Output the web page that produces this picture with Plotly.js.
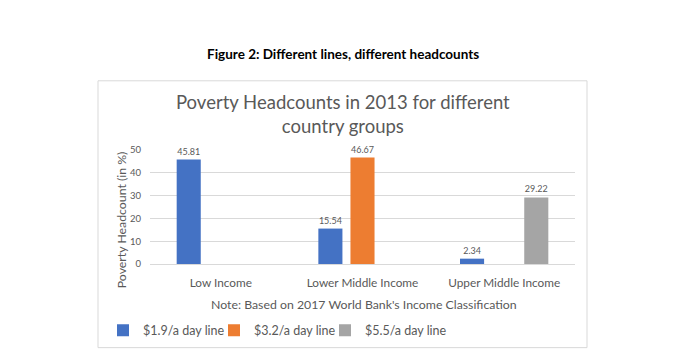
<!DOCTYPE html>
<html><head><meta charset="utf-8">
<script src="https://cdn.plot.ly/plotly-3.0.1.min.js"></script>
<style>html,body{margin:0;padding:0;background:#fff}#chart{width:678px;height:361px}</style>
</head><body><div id="chart"></div>
<script>
const categories = ["Low Income", "Lower Middle Income", "Upper Middle Income"];
const seriesNames = ["$1.9/a day line", "$3.2/a day line", "$5.5/a day line"];
const line19 = [45.81, 15.54, 2.34];
const line32 = [null, 46.67, null];
const line55 = [null, null, 29.22];
const yTicks = [0, 10, 20, 30, 40, 50];
const colors = ["#4472C4", "#ED7D31", "#A5A5A5"];

const font = "Lato, 'Open Sans', sans-serif";
const gray = "#595959";
const seriesVals = [line19, line32, line55];
const traces = seriesVals.map((v, i) => ({
  type: "bar", name: seriesNames[i], x: categories, y: v,
  marker: {color: colors[i]},
  text: v.map(d => d == null ? "" : d.toFixed(2)),
  textposition: "outside", cliponaxis: false,
  textfont: {family: font, size: 9, color: gray}
}));
// empty spacer entry so the last legend label is not clipped
traces.push({type: "scatter", mode: "markers", x: [null], y: [null], name: "\u00a0",
  marker: {color: "rgba(0,0,0,0)"}, showlegend: true, hoverinfo: "skip"});

// pixel -> paper helpers (plot area x 150..575, y 264..149.5)
const L = 150, R = 575, B = 264, T = 149.5;
const px = p => (p - L) / (R - L);
const py = p => (B - p) / (B - T);
const ann = (text, x, y, size, color, extra) => Object.assign({
  text, xref: "paper", yref: "paper", x: px(x), y: py(y),
  xanchor: "center", yanchor: "middle", showarrow: false,
  font: {family: font, size, color}
}, extra || {});

const layout = {
  width: 678, height: 361,
  margin: {l: L, r: 678 - R, t: T, b: 361 - B, pad: 0},
  paper_bgcolor: "#fff", plot_bgcolor: "#fff",
  barmode: "group", bargap: 0.32, bargroupgap: 0.25,
  showlegend: true,
  font: {family: font, color: gray},
  xaxis: {
    type: "category", tickfont: {family: font, size: 11.8, color: gray},
    showgrid: false, zeroline: false, showline: true, linecolor: "#d9d9d9",
    ticks: "", ticklabelstandoff: 8
  },
  yaxis: {
    range: [0, 50], tickvals: yTicks, ticktext: yTicks.map(String),
    tickfont: {family: font, size: 9.5, color: gray},
    showgrid: true, gridcolor: "#d9d9d9", zeroline: false, showline: false,
    ticks: "", ticklabelstandoff: 8
  },
  legend: {
    orientation: "h", x: px(103), y: py(331), xanchor: "left", yanchor: "middle",
    font: {family: font, size: 12.5, color: gray}, itemwidth: 30, entrywidth: 66,
    bgcolor: "rgba(0,0,0,0)"
  },
  shapes: [{
    type: "rect", xref: "paper", yref: "paper",
    x0: px(98), x1: px(587), y0: py(348), y1: py(80),
    line: {color: "#d9d9d9", width: 1}, layer: "below"
  }],
  annotations: [
    ann("<b>Figure 2: Different lines, different headcounts</b>", 343, 53, 13.5, "#000"),
    ann("Poverty Headcounts in 2013 for different<br>country groups", 343, 113, 18.5, gray),
    ann("Poverty Headcount (in %)", 121, 220, 12.3, gray, {textangle: -90}),
    ann("Note: Based on 2017 World Bank's Income Classification", 364, 305, 12.3, gray)
  ]
};
Plotly.newPlot("chart", traces, layout, {displayModeBar: false, staticPlot: true});
</script></body></html>
